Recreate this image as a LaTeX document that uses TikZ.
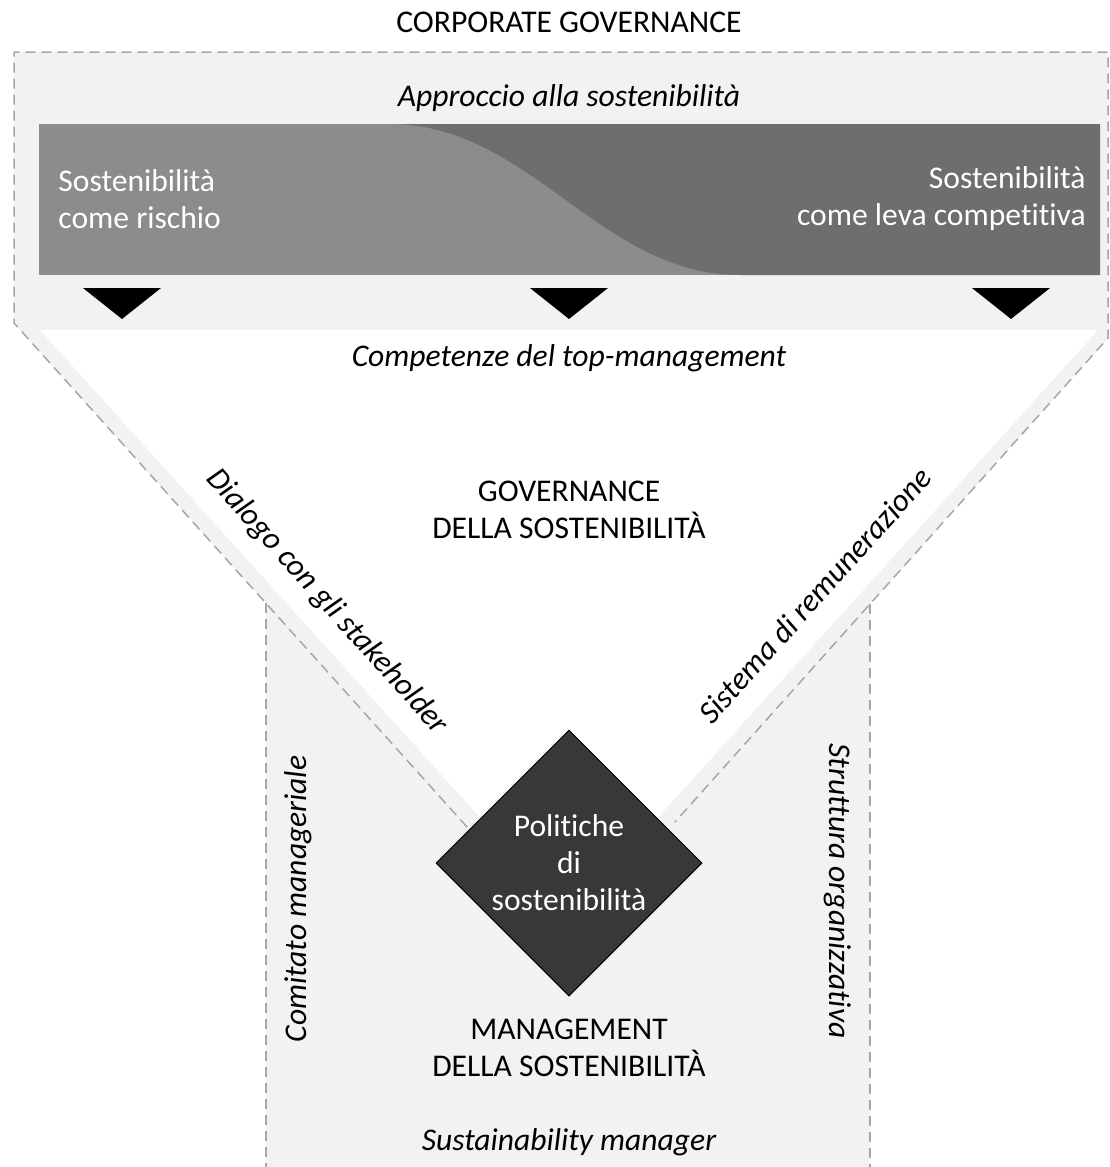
\documentclass[tikz,border=0pt]{standalone}
\usepackage{fontspec}
\setmainfont{Carlito}[Ligatures=NoCommon]
\usetikzlibrary{shapes.geometric}
\definecolor{bggray}{HTML}{F2F2F2}
\definecolor{lightband}{HTML}{8C8C8C}
\definecolor{darkband}{HTML}{6E6E6E}
\definecolor{polgray}{HTML}{383838}
\definecolor{dashgray}{HTML}{A6A6A6}
\begin{document}
\begin{tikzpicture}[x=0.5pt, y=-0.5pt,
    txt/.style={font=\fontsize{15.8}{18.5}\selectfont, align=center, inner sep=0pt},
    itxt/.style={txt, font=\fontsize{15.8}{18.5}\selectfont\itshape},
    wtxt/.style={txt, text=white},
    border/.style={dashgray, line width=0.75pt, dash pattern=on 5pt off 3pt}]
    \useasboundingbox (0,0) rectangle (1109,1167);
    % outline corners
    \coordinate (tl) at (14,52); \coordinate (tr) at (1108,52);
    \coordinate (rc) at (1108,338); \coordinate (rb) at (870,604);
    \coordinate (lb) at (266,603); \coordinate (lc) at (14,323);
    \coordinate (le) at (467,827); \coordinate (re) at (675,822);
    \coordinate (lbot) at (266,1167); \coordinate (rbot) at (870,1167);

    % background areas
    \fill[bggray] (tl) -- (tr) -- (rc) -- (rb) -- (rbot) -- (lbot) -- (lb)
      -- (lc) -- cycle;
    \fill[white] (40,330) -- (1098,330) -- (569,916) -- cycle;

    % approach band
    \fill[lightband] (39,124) rectangle (1100,275);
    \fill[darkband] (390,124) .. controls (530,124) and (600,275) .. (740,275)
      -- (1100,275) -- (1100,124) -- cycle;
    \foreach \c in {122,569,1011}
      \fill (\c-39,288) -- (\c+39,288) -- (\c,319) -- cycle;

    % dashed borders
    \draw[border] (le) -- (lc) -- (tl) -- (tr) -- (rc) -- (re);
    \draw[border] (lb) -- (lbot); \draw[border] (rb) -- (rbot);

    \node[diamond, draw=black, line width=0.5pt, fill=polgray, aspect=1,
      minimum size=133pt, inner sep=0pt, txt, text=white] (pol) at (569,863)
      {Politiche\\di\\sostenibilità};

    \begin{scope}[every node/.style={txt}]
      \node (corpgov) at (569,22) {CORPORATE GOVERNANCE};
      \node (govsost) at (569,510) {GOVERNANCE\\DELLA SOSTENIBILITÀ};
      \node (mgmtsost) at (569,1048) {MANAGEMENT\\DELLA SOSTENIBILITÀ};
    \end{scope}
    \begin{scope}[every node/.style={itxt}]
      \node (approccio) at (569,98) {Approccio alla sostenibilità};
      \node (competenze) at (569,358) {Competenze del top-management};
      \node (sustman) at (569,1142) {Sustainability manager};
      \node[rotate=-48] (dialogo) at (327,602) {Dialogo con gli stakeholder};
      \node[rotate=48] (remun) at (815,595) {Sistema di remunerazione};
      \node[rotate=90] (comitato) at (298,899) {Comitato manageriale};
      \node[rotate=-90] (struttura) at (838,891) {Struttura organizzativa};
    \end{scope}
    \node[wtxt, anchor=west, align=left] (rischio) at (58,199)
      {Sostenibilità\\come rischio};
    \node[wtxt, anchor=east, align=right] (leva) at (1086,199)
      {Sostenibilità\\come leva competitiva};
  \end{tikzpicture}
\end{document}
